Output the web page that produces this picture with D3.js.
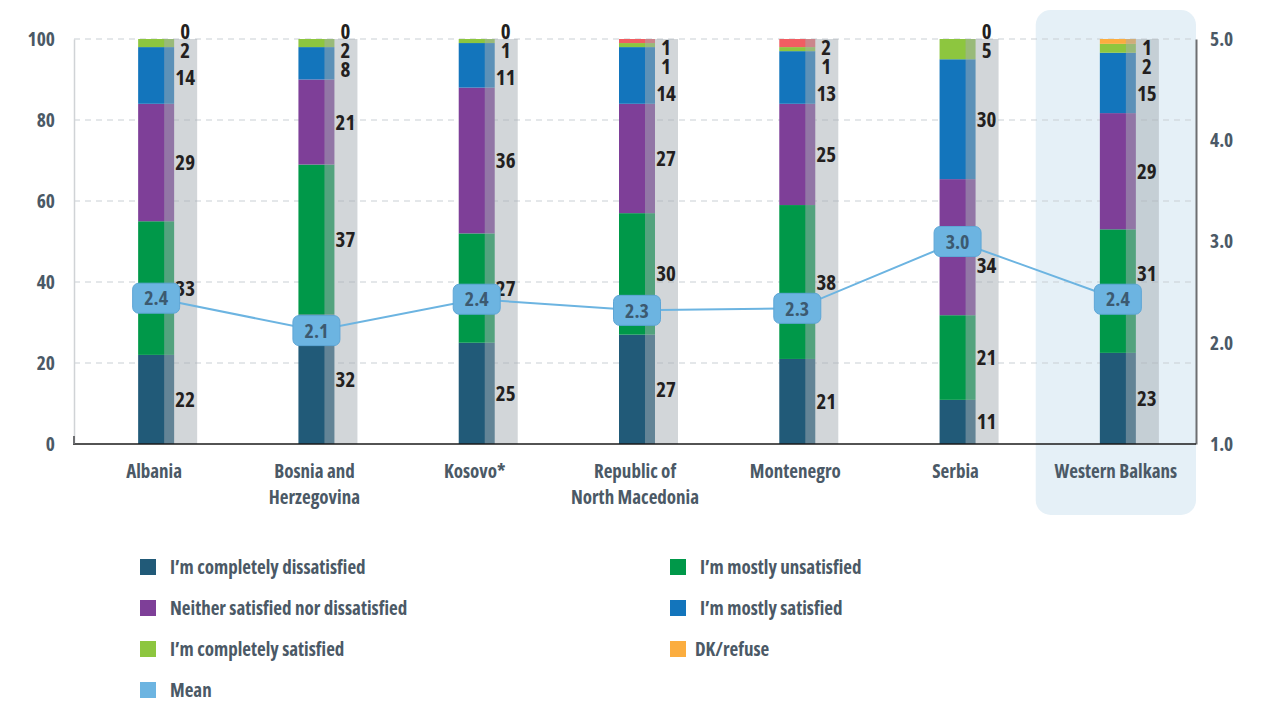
<!DOCTYPE html>
<html>
<head>
<meta charset="utf-8">
<script src="https://cdn.jsdelivr.net/npm/d3@7"></script>
<style>
  html, body { margin: 0; padding: 0; background: #fff; }
  svg { display: block; }
  text { font-family: "Open Sans", sans-serif; font-stretch: 75%; font-weight: bold; }
</style>
</head>
<body>
<svg id="chart" width="1265" height="702"></svg>
<script>
// ---------- DATA ----------
const categories = ["Albania", "Bosnia and Herzegovina", "Kosovo*", "Republic of North Macedonia", "Montenegro", "Serbia", "Western Balkans"];
const categoryLines = [["Albania"], ["Bosnia and", "Herzegovina"], ["Kosovo*"], ["Republic of", "North Macedonia"], ["Montenegro"], ["Serbia"], ["Western Balkans"]];
const seriesNames = ["I’m completely dissatisfied", "I’m mostly unsatisfied", "Neither satisfied nor dissatisfied", "I’m mostly satisfied", "I’m completely satisfied", "DK/refuse"];
const completelyDissatisfied = [22, 32, 25, 27, 21, 10.9, 22.5];
const mostlyUnsatisfied      = [33, 37, 27, 30, 38, 20.9, 30.5];
const neitherNor             = [29, 21, 36, 27, 25, 33.6, 28.7];
const mostlySatisfied        = [14, 8, 11, 14, 13, 29.6, 14.9];
const completelySatisfied    = [2, 2, 1, 1, 1, 5.0, 2.2];
const dkRefuse               = [0, 0, 0, 1, 2, 0, 1.2];
const meanValues             = [2.44, 2.12, 2.43, 2.32, 2.34, 3.0, 2.43];
const leftTicks  = [0, 20, 40, 60, 80, 100];
const rightTicks = [1.0, 2.0, 3.0, 4.0, 5.0];
const highlighted = "Western Balkans";

// ---------- STYLES ----------
const colors = ["#215a78", "#009849", "#7e3f98", "#1375bc", "#8dc63f", "#fbad3f"];
const dkCountryColor = "#f15d62";
const meanColor = "#6cb4e1";
const axisTextColor = "#4b5966";
const valueTextColor = "#231f20";

const svg = d3.select("#chart");
const margin = { left: 74, right: 69, top: 39, bottom: 258 };
const W = 1265, H = 702;
const x0 = margin.left, x1 = W - margin.right;
const yTop = margin.top, yBot = H - margin.bottom;

const x = d3.scaleBand().domain(categories).range([x0, x1]).padding(0);
const y = d3.scaleLinear().domain([0, 100]).range([yBot, yTop]);
const yR = d3.scaleLinear().domain([1, 5]).range([yBot, yTop]);
const fmtVal = v => (+v).toFixed(0);

const series = [completelyDissatisfied, mostlyUnsatisfied, neitherNor, mostlySatisfied, completelySatisfied, dkRefuse];
const rows = categories.map((c, i) => {
  const r = { cat: c };
  seriesNames.forEach((s, k) => r[s] = series[k][i]);
  return r;
});
const stacked = d3.stack().keys(seriesNames)(rows);

// highlight panel
const hx = x(highlighted);
svg.append("rect")
  .attr("x", hx).attr("y", 10)
  .attr("width", x.bandwidth()).attr("height", 505)
  .attr("rx", 15).attr("ry", 15)
  .attr("fill", "#e5f0f7");

// gridlines
svg.append("g").selectAll("line").data(leftTicks.filter(t => t > 0)).join("line")
  .attr("x1", x0).attr("x2", x1)
  .attr("y1", d => y(d)).attr("y2", d => y(d))
  .attr("stroke", "#c9cfd4").attr("stroke-width", 1).attr("stroke-dasharray", "6,5");

// left axis
const leftAxis = svg.append("g").attr("transform", `translate(${x0},0)`)
  .call(d3.axisLeft(y).tickValues(leftTicks).tickSize(0).tickPadding(19).tickFormat(d3.format("d")));
leftAxis.select(".domain").attr("stroke", "#d0d3d6").attr("stroke-width", 1.5);
leftAxis.selectAll("text").attr("fill", axisTextColor).style("font-size", "19.5px");

// right axis
const rightAxis = svg.append("g").attr("transform", `translate(${x1},0)`)
  .call(d3.axisRight(yR).tickValues(rightTicks).tickSize(0).tickPadding(14).tickFormat(d3.format(".1f")));
rightAxis.select(".domain").attr("stroke", "#6d6e71").attr("stroke-width", 2);
rightAxis.selectAll("text").attr("fill", axisTextColor).style("font-size", "19.5px");

const barW = 36, barOff = -16;
const cx = c => x(c) + x.bandwidth() / 2;

// bars
stacked.forEach((layer, k) => {
  svg.append("g").selectAll("rect").data(layer).join("rect")
    .attr("x", d => cx(d.data.cat) + barOff)
    .attr("width", barW)
    .attr("y", d => y(d[1]))
    .attr("height", d => Math.max(0, y(d[0]) - y(d[1])))
    .attr("fill", d => (k === 5 && d.data.cat !== highlighted) ? dkCountryColor : colors[k]);
});

// grey translucent label strip
svg.append("g").selectAll("rect").data(categories).join("rect")
  .attr("x", c => cx(c) + barOff + 26)
  .attr("width", 33)
  .attr("y", y(100))
  .attr("height", y(0) - y(100))
  .attr("fill", "#a6adb4").attr("opacity", 0.5);

// bottom axis line
svg.append("line").attr("x1", x0 - 1).attr("x2", x1).attr("y1", yBot).attr("y2", yBot)
  .attr("stroke", "#1a1a1a").attr("stroke-width", 1.5);
svg.append("line").attr("x1", x0).attr("x2", x0).attr("y1", yBot - 8).attr("y2", yBot)
  .attr("stroke", "#6d6e71").attr("stroke-width", 2);

// value labels
categories.forEach((c, i) => {
  const vals = series.map(s => s[i]);
  const labels = vals.map(fmtVal);
  const cum = [];
  let acc = 0;
  vals.forEach(v => { cum.push([acc, acc + v]); acc += v; });
  const boxY = yR(meanValues[i]);
  const ys = [];
  const order = [5, 4, 3, 2, 1, 0];
  let prev = null;
  order.forEach((k, j) => {
    const center = y((cum[k][0] + cum[k][1]) / 2);
    let py;
    if (j === 0) {
      py = vals[k] > 0 ? y(100) + 8 : y(100) - 8;
    } else {
      const gap = labels[k].length > 1 && j === 2 ? 27 : 19;
      py = Math.max(center, prev + gap);
      if (j > 2 && Math.abs(py - boxY) < 9) py = py < boxY ? boxY - 26 : boxY + 24;
    }
    ys[k] = py; prev = py;
  });
  svg.append("g").selectAll("text").data(order).join("text")
    .attr("x", cx(c) + 31)
    .attr("y", k => ys[k])
    .attr("dy", "0.36em")
    .attr("text-anchor", "middle")
    .attr("fill", valueTextColor)
    .style("font-size", "21px")
    .text(k => labels[k]);
});

// category labels
categories.forEach((c, i) => {
  const t = svg.append("text")
    .attr("x", cx(c)).attr("y", 478)
    .attr("text-anchor", "middle")
    .attr("fill", axisTextColor)
    .style("font-size", "19px");
  categoryLines[i].forEach((ln, j) => {
    t.append("tspan").attr("x", cx(c)).attr("dy", j === 0 ? 0 : 26).text(ln);
  });
});

// mean line
const meanPts = categories.map((c, i) => [cx(c) + 2, yR(meanValues[i])]);
svg.append("path")
  .attr("d", d3.line()(meanPts))
  .attr("fill", "none").attr("stroke", meanColor).attr("stroke-width", 2);

const mg = svg.append("g").selectAll("g").data(categories).join("g")
  .attr("transform", (c, i) => `translate(${meanPts[i][0]},${meanPts[i][1]})`);
mg.append("rect")
  .attr("x", -23.5).attr("y", -15).attr("width", 47).attr("height", 30)
  .attr("rx", 6).attr("ry", 6)
  .attr("fill", meanColor).attr("stroke", "#5ea6d6").attr("stroke-width", 1);
mg.append("text")
  .attr("text-anchor", "middle").attr("dy", "0.36em")
  .attr("fill", "#3c5a70").style("font-size", "20px")
  .text((c, i) => d3.format(".1f")(meanValues[i]));

// legend
const legendItems = [
  { name: seriesNames[0], color: colors[0], col: 0, row: 0 },
  { name: seriesNames[1], color: colors[1], col: 1, row: 0 },
  { name: seriesNames[2], color: colors[2], col: 0, row: 1 },
  { name: seriesNames[3], color: colors[3], col: 1, row: 1 },
  { name: seriesNames[4], color: colors[4], col: 0, row: 2 },
  { name: seriesNames[5], color: colors[5], col: 1, row: 2 },
  { name: "Mean", color: meanColor, col: 0, row: 3 }
];
const lg = svg.append("g").selectAll("g").data(legendItems).join("g")
  .attr("transform", d => `translate(${d.col === 0 ? 140 : 670},${567 + d.row * 41})`);
lg.append("rect").attr("x", 0).attr("y", -8).attr("width", 16).attr("height", 16).attr("fill", d => d.color);
lg.append("text").attr("x", d => d.name === "DK/refuse" ? 25 : 30).attr("dy", "0.36em")
  .attr("fill", axisTextColor).style("font-size", "19px").text(d => d.name);
</script>
</body>
</html>
